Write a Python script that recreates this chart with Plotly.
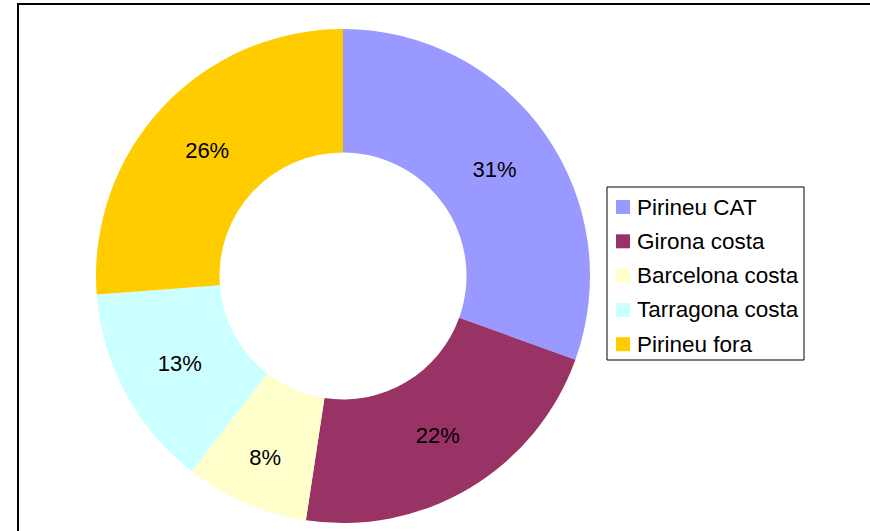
import plotly.graph_objects as go

W, H = 870, 531

labels = ["Pirineu CAT", "Girona costa", "Barcelona costa", "Tarragona costa", "Pirineu fora"]
shares = [30.5, 21.9, 8.1, 13.3, 26.2]
pct_labels = ["31%", "22%", "8%", "13%", "26%"]
colors = ["#9999FF", "#993366", "#FFFFCC", "#CCFFFF", "#FFCC00"]

FONT = "Liberation Sans, Arial, sans-serif"


def px(x):
    return x / W


def py(y):
    return 1 - y / H


fig = go.Figure()
fig.add_trace(
    go.Pie(
        labels=labels,
        values=shares,
        text=pct_labels,
        texttemplate="%{text}",
        marker={"colors": colors, "line": {"width": 0}},
        hole=0.5,
        sort=False,
        direction="clockwise",
        rotation=0,
        textposition="inside",
        insidetextorientation="horizontal",
        textfont={"family": FONT, "size": 22, "color": "black"},
        domain={"x": [px(343 - 247), px(343 + 247)], "y": [py(523), py(29)]},
        showlegend=False,
    )
)

shapes = [
    # outer frame (right and bottom edges fall outside the picture)
    dict(type="rect", xref="paper", yref="paper", x0=px(18), x1=1.05, y0=-0.05, y1=py(4),
         line={"color": "black", "width": 2}),
    # legend box
    dict(type="rect", xref="paper", yref="paper", x0=px(607), x1=px(804), y0=py(360), y1=py(187),
         line={"color": "black", "width": 1}, fillcolor="white"),
]
annotations = []
row0, step = 207, 34.3
for i, (name, col) in enumerate(zip(labels, colors)):
    yc = row0 + i * step
    shapes.append(
        dict(type="rect", xref="paper", yref="paper", x0=px(616), x1=px(630),
             y0=py(yc + 7), y1=py(yc - 7), fillcolor=col, line={"width": 0})
    )
    annotations.append(
        dict(text=name, xref="paper", yref="paper", x=px(635), y=py(yc), xanchor="left",
             yanchor="middle", showarrow=False, font={"family": FONT, "size": 22.5, "color": "black"})
    )

fig.update_layout(
    width=W,
    height=H,
    margin={"l": 0, "r": 0, "t": 0, "b": 0},
    paper_bgcolor="white",
    plot_bgcolor="white",
    shapes=shapes,
    annotations=annotations,
    showlegend=False,
)

fig.write_html(
    "out.html",
    config={"displayModeBar": False},
    post_script="document.body.style.margin = '0';",
)
